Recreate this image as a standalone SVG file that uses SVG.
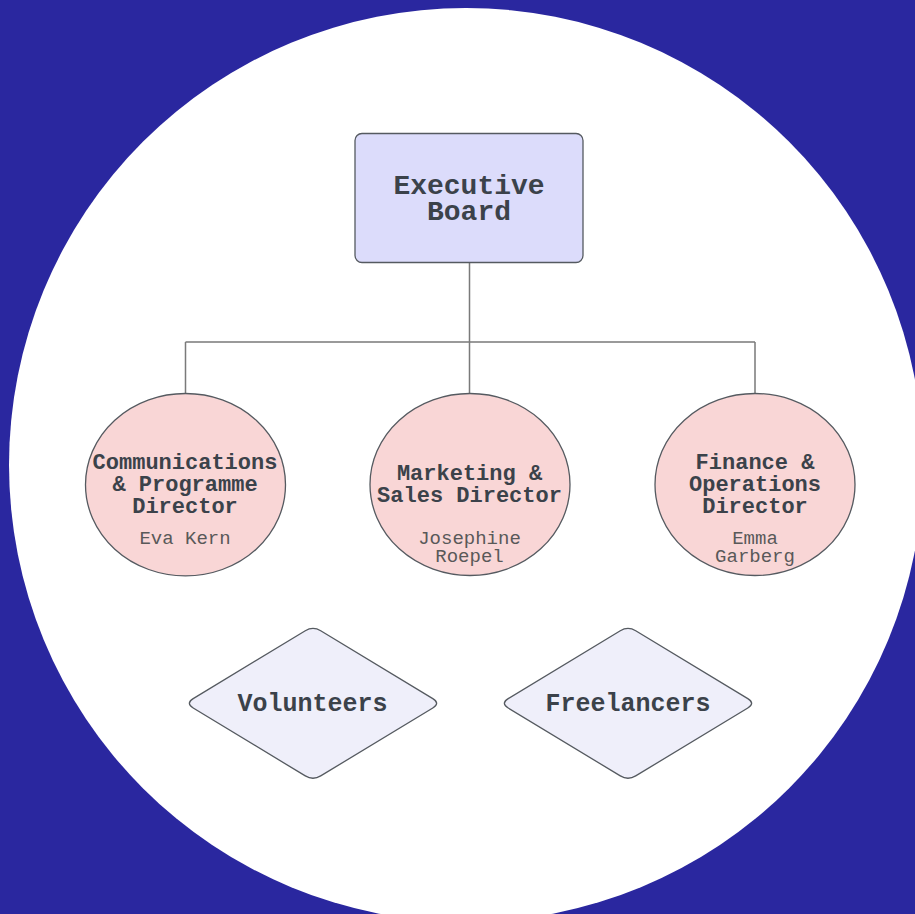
<svg xmlns="http://www.w3.org/2000/svg" width="915" height="914" viewBox="0 0 915 914">
<style>
.t{font-family:"Liberation Mono","Courier New",monospace;font-weight:bold;fill:#3b424a;text-anchor:middle}
.n{font-family:"Liberation Mono","Courier New",monospace;fill:#595959;text-anchor:middle}
.edge{stroke:#7a7a7a;stroke-width:1.5;fill:none}
.sh{stroke:#555a60;stroke-width:1.3}
</style>
<defs>
<path id="dia" d="M -119.8,-4.7 L -7.7,-72.6 Q 0,-77.3 7.7,-72.6 L 119.8,-4.7 Q 127.5,0 119.8,4.7 L 7.7,72.6 Q 0,77.3 -7.7,72.6 L -119.8,4.7 Q -127.5,0 -119.8,-4.7 Z"/>
</defs>
<rect width="915" height="914" fill="#2a279f"/>
<circle cx="466" cy="465" r="457" fill="#ffffff"/>
<g id="connectors">
<path class="edge" d="M469.5,263 V342 M185.5,342 H755 M185.5,342 V393.5 M469.5,342 V393.5 M755,342 V393.5"/>
</g>
<g id="executive-board">
<rect class="sh" x="355" y="133.5" width="228" height="129" rx="7" fill="#dcdcfb"/>
<text class="t" x="469" y="193.5" font-size="28">Executive</text>
<text class="t" x="469" y="219.5" font-size="28">Board</text>
</g>
<g id="comms-director">
<ellipse class="sh" cx="185.5" cy="484.7" rx="100" ry="91.2" fill="#f9d6d6"/>
<text class="t" x="185" y="469" font-size="22">Communications</text>
<text class="t" x="185" y="491" font-size="22">&amp; Programme</text>
<text class="t" x="185" y="512.7" font-size="22">Director</text>
<text class="n" x="185" y="544.3" font-size="19">Eva Kern</text>
</g>
<g id="marketing-director">
<ellipse class="sh" cx="470" cy="484.5" rx="100" ry="91" fill="#f9d6d6"/>
<text class="t" x="469.5" y="480" font-size="22">Marketing &amp;</text>
<text class="t" x="469.5" y="501.7" font-size="22">Sales Director</text>
<text class="n" x="469.5" y="544.3" font-size="19">Josephine</text>
<text class="n" x="469.5" y="561.7" font-size="19">Roepel</text>
</g>
<g id="finance-director">
<ellipse class="sh" cx="755" cy="484.5" rx="100" ry="91" fill="#f9d6d6"/>
<text class="t" x="755" y="469.3" font-size="22">Finance &amp;</text>
<text class="t" x="755" y="491" font-size="22">Operations</text>
<text class="t" x="755" y="512.7" font-size="22">Director</text>
<text class="n" x="755" y="544.3" font-size="19">Emma</text>
<text class="n" x="755" y="561.7" font-size="19">Garberg</text>
</g>
<g id="volunteers">
<use href="#dia" class="sh" transform="translate(313,703.3)" fill="#efeffa"/>
<text class="t" x="312.5" y="711" font-size="25">Volunteers</text>
</g>
<g id="freelancers">
<use href="#dia" class="sh" transform="translate(628,703.3)" fill="#efeffa"/>
<text class="t" x="628" y="711" font-size="25">Freelancers</text>
</g>
</svg>
